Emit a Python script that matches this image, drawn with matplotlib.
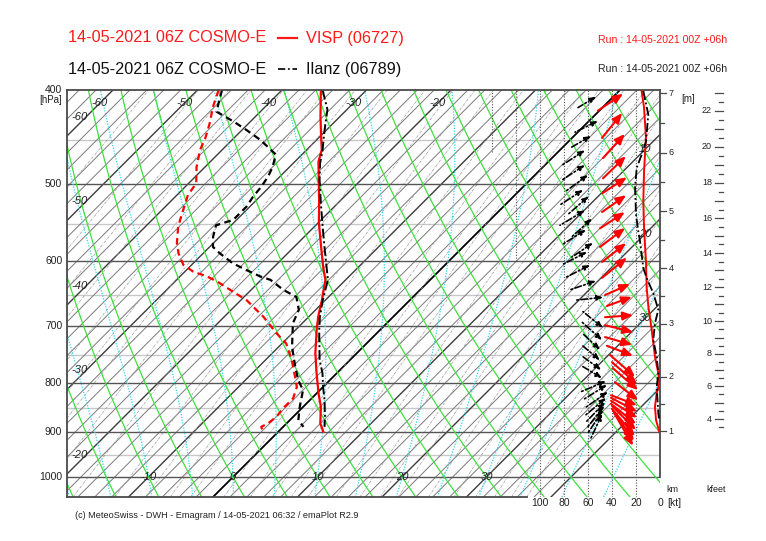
import numpy as np
import matplotlib
matplotlib.use("Agg")
import matplotlib.pyplot as plt
from matplotlib.lines import Line2D
from matplotlib.transforms import blended_transform_factory

plt.rcParams['font.family'] = ['Liberation Sans', 'DejaVu Sans']

# ------------------------------------------------------------------ data
# VISP (06727) temperature / dew point profile  [hPa, degC]
visp_p = [400, 426, 448, 461, 474, 495, 523, 548, 580, 608, 627, 658, 684, 706,
          746, 782, 820, 847, 881, 898]
visp_t = [-35.4, -32.3, -29.7, -28.2, -27.2, -25.0, -22.2, -19.9, -16.8, -14.2,
          -12.4, -10.4, -8.9, -7.5, -4.9, -2.4, 0.2, 2.1, 4.0, 5.3]
visp_td_p = [400, 416, 433, 448, 461, 480, 499, 513, 536, 553, 575, 589, 605, 615,
             622, 630, 645, 658, 676, 684, 712, 729, 758, 789, 808, 830, 847, 867,
             881, 888, 898]
visp_td = [-47.5, -46.2, -44.6, -43.4, -42.6, -41.0, -39.1, -38.7, -37.2, -36.1,
           -34.3, -32.9, -31.0, -29.0, -26.8, -24.9, -21.9, -19.3, -16.6, -15.4,
           -11.8, -9.5, -6.9, -4.5, -3.1, -2.2, -2.2, -2.0, -2.2, -2.6, -1.8]

# Ilanz (06789)
ilanz_p = [400, 419, 433, 448, 461, 476, 495, 523, 553, 580, 608, 627, 658, 684,
           706, 758, 782, 808, 833, 867, 888]
ilanz_t = [-35.2, -32.3, -30.9, -29.4, -28.1, -26.8, -24.9, -22.0, -19.0, -16.4,
           -13.8, -12.1, -10.3, -8.7, -7.2, -3.6, -1.7, 0.0, 1.7, 3.75, 4.9]
ilanz_td_p = [400, 421, 431, 440, 450, 457, 466, 480, 491, 503, 515, 527, 544, 551,
              566, 580, 589, 603, 615, 622, 627, 642, 653, 673, 695, 735, 770, 795,
              814, 847, 874, 888]
ilanz_td = [-47.1, -45.2, -42.0, -39.4, -36.7, -35.1, -33.1, -32.0, -31.4, -31.0,
            -30.8, -30.4, -30.4, -31.8, -30.8, -29.6, -28.0, -25.3, -22.3, -20.5,
            -18.9, -16.2, -13.8, -12.0, -11.1, -8.4, -5.7, -3.75, -2.0, -0.4, 1.0, 2.4]

# profile curves in the wind panel [hPa, kt]
visp_ff_p = [401, 417, 448, 485, 520, 555, 600, 639, 668, 706, 752, 782, 801, 820,
             847, 874, 898]
visp_ff = [15.3, 13.3, 11.7, 13.3, 13.9, 13.3, 11.7, 11.1, 9.7, 6.9, 4.2, 1.4, 0.6,
           2.75, 4.2, 3.3, 0.6]
ilanz_ff_p = [401, 424, 452, 466, 481, 504, 537, 559, 572, 610, 627, 647, 673, 695,
              723, 752, 782, 808, 860, 874]
ilanz_ff = [13.9, 9.75, 11.7, 15.25, 19.4, 20.8, 20.0, 18.1, 16.7, 13.9, 10.5, 5.6,
            1.4, 4.2, 5.6, 2.75, 1.4, 2.75, 1.4, 0.6]

# wind arrows: pressure [hPa], position of the tail on the kt scale,
# direction [deg] and vector length [kt]
visp_w_p = [420, 448, 470, 493, 511, 534, 555, 580, 601, 624, 650, 667, 685, 698,
            718, 733, 749, 762, 773, 799, 824, 829, 835, 841, 845, 851, 855, 859]
visp_w_kt = [51.7, 48.3, 47.5, 47.5, 48.3, 48.3, 50.0, 50.0, 48.3, 48.3, 45.8, 44.2,
             45.8, 45.8, 45.8, 44.2, 41.7, 40.0, 39.2, 37.5, 40.8, 40.8, 40.8, 40.8,
             40.0, 40.0, 39.2, 38.3]
visp_w_dir = [236, 219, 222, 226, 237, 235, 237, 233, 232, 231, 246, 250, 266, 284,
              286, 291, 311, 311, 311, 308, 291, 298, 303, 309, 315, 320, 325, 330]
visp_w_ff = [25.2, 26.7, 27.1, 26.5, 24.7, 24.5, 24.7, 26.2, 25.5, 26.7, 22.8, 22.1,
             23.4, 24.1, 23.5, 23.2, 27.7, 27.7, 27.7, 24.3, 23.2, 24.6, 25.9, 26.7,
             28.3, 29.6, 30.5, 31.7]

ilanz_w_p = [417, 442, 459, 478, 495, 509, 525, 537, 551, 566, 577, 594, 605, 624,
             642, 658, 676, 693, 711, 732, 751, 769, 818, 833, 849, 863, 878, 890,
             901, 916]
ilanz_w_kt = [68.3, 70.8, 75.0, 81.7, 81.7, 79.2, 83.3, 76.7, 83.3, 73.3, 81.7, 73.3,
              81.7, 79.2, 75.0, 70.8, 64.2, 65.0, 65.0, 65.0, 65.0, 65.0, 66.7, 64.2,
              62.5, 61.7, 61.7, 60.8, 60.0, 58.3]
ilanz_w_dir = [239, 244, 240, 237, 237, 234, 237, 229, 239, 228, 238, 236, 243, 243,
               251, 264, 309, 312, 313, 310, 306, 301, 247, 238, 235, 230, 224, 218,
               213, 205]
ilanz_w_ff = [17.6, 21.2, 20.2, 22.9, 22.9, 23.8, 22.9, 23.0, 24.3, 22.4, 23.6, 21.0,
              23.5, 23.5, 22.9, 23.5, 21.3, 22.4, 20.6, 19.5, 19.7, 19.4, 23.5, 23.6,
              23.3, 21.9, 23.0, 23.2, 22.9, 23.9]

# height scales (pressure of each km level)
km_levels = [1, 2, 3, 4, 5, 6, 7]
km_press = [897, 789, 696, 610, 533, 464, 403]

p_major = [500, 600, 700, 800, 900, 1000]
p_minor = [450, 550, 650, 750, 850, 950]
p_labels = [400, 500, 600, 700, 800, 900, 1000]
kt_ticks = [100, 80, 60, 40, 20, 0]

title_red = "14-05-2021 06Z COSMO-E"
station_red = "VISP (06727)"
title_blk = "14-05-2021 06Z COSMO-E"
station_blk = "Ilanz (06789)"
run_txt = "Run : 14-05-2021 00Z +06h"
footer = "(c) MeteoSwiss - DWH - Emagram / 14-05-2021 06:32 / emaPlot R2.9"

# ------------------------------------------------------------------ figure
W, H = 766, 541
fig = plt.figure(figsize=(W / 100, H / 100), dpi=100)
L, R, T, B = 67, 660, 90, 497
rect = [L / W, 1 - B / H, (R - L) / W, (B - T) / H]
ax = fig.add_axes(rect)
P_BOT, P_TOP = 1048.5, 400.0
X_MIN, X_MAX = -19.645, 50.533
ax.set_yscale('log')
ax.set_ylim(P_BOT, P_TOP)
ax.set_xlim(X_MIN, X_MAX)
ax.set_xticks([]); ax.set_yticks([]); ax.minorticks_off()
for s in ax.spines.values():
    s.set_visible(False)
SKEW = ((B - T) / np.log(P_BOT / P_TOP)) / ((R - L) / (X_MAX - X_MIN))


def skx(t, p):
    return np.asarray(t, float) + SKEW * np.log(1000.0 / np.asarray(p, float))


pp = np.geomspace(P_BOT, P_TOP, 120)
GREY = '#7a7a7a'

# horizontal pressure lines
for p in p_minor:
    ax.plot([X_MIN, X_MAX], [p, p], color='#c8c8c8', lw=1.0, zorder=1)
for p in p_major:
    ax.plot([X_MIN, X_MAX], [p, p], color='#555555', lw=1.0, zorder=1.2)

# isotherms
for t in np.arange(-110, 40.01, 2):
    if t == 0:
        c, lw = '#000000', 1.3
    elif t % 10 == 0:
        c, lw = '#3c3c3c', 1.0
    else:
        c, lw = GREY, 0.7
    ax.plot(skx([t, t], [P_BOT, P_TOP]), [P_BOT, P_TOP], color=c, lw=lw, zorder=1.1)

# mixing ratio lines
for w in [0.05, 0.1, 0.15, 0.2, 0.3, 0.4, 0.5, 0.7, 1, 1.5, 2, 2.5, 3, 4, 5, 6, 7,
          8, 10, 12, 14, 16, 20, 24, 28, 32, 36, 40]:
    e = pp * w / (622.0 + w)
    a = np.log(e / 6.112)
    td = 243.5 * a / (17.67 - a)
    ax.plot(skx(td, pp), pp, color='#9a9a9a', lw=0.5, ls=(0, (4, 1.5, 1, 1.5)), zorder=1.1)

# dry adiabats
for th in np.arange(-80, 181, 5):
    tt = (th + 273.15) * (pp / 1000.0) ** 0.2857 - 273.15
    ax.plot(skx(tt, pp), pp, color='#3ee03e', lw=0.9, zorder=1.3)


# moist adiabats
def moist(t0):
    Rd, cp, Lv, eps = 287.04, 1005.7, 2.501e6, 0.622

    def f(Tk, p):
        tc = Tk - 273.15
        es = 6.112 * np.exp(17.67 * tc / (tc + 243.5))
        rs = eps * es / (p - es)
        return (Rd * Tk + Lv * rs) / (p * (cp + Lv * Lv * rs * eps / (Rd * Tk * Tk)))

    out = []
    for pend in (P_TOP, P_BOT):
        ps = np.linspace(1000.0, pend, 200)
        Tk = t0 + 273.15
        res = [Tk]
        for i in range(len(ps) - 1):
            h = ps[i + 1] - ps[i]
            k1 = f(Tk, ps[i]); k2 = f(Tk + h * k1 / 2, ps[i] + h / 2)
            k3 = f(Tk + h * k2 / 2, ps[i] + h / 2); k4 = f(Tk + h * k3, ps[i + 1])
            Tk = Tk + h * (k1 + 2 * k2 + 2 * k3 + k4) / 6
            res.append(Tk)
        out.append((ps, np.array(res) - 273.15))
    p_all = np.concatenate([out[1][0][::-1], out[0][0][1:]])
    t_all = np.concatenate([out[1][1][::-1], out[0][1][1:]])
    return p_all, t_all


for tw in np.arange(-25, 46, 5):
    mp, mt = moist(tw)
    ax.plot(skx(mt, mp), mp, color='#33d6f0', lw=0.9, ls=(0, (1, 1.2)), zorder=1.25)

# frame
fc = '#4a4a4a'
ax.plot([X_MIN, X_MIN], [P_BOT, P_TOP], color=fc, lw=1.3, clip_on=False, zorder=5)
ax.plot([X_MIN, X_MAX], [P_TOP, P_TOP], color=fc, lw=1.3, clip_on=False, zorder=5)
ax.plot([X_MAX, X_MAX], [1000, P_TOP], color=fc, lw=1.3, clip_on=False, zorder=5)
x_bot_end = X_MIN + (527 - L) / (R - L) * (X_MAX - X_MIN)
ax.plot([X_MIN, x_bot_end], [P_BOT, P_BOT], color=fc, lw=1.3, clip_on=False, zorder=5)

# isotherm labels
lab_kw = dict(fontsize=8, style='italic', color='#222222', ha='center', va='center', zorder=6)
x_left = X_MIN + 13 / 8.45
for t in [-60, -50, -40, -30, -20]:
    p = 1000.0 / np.exp((x_left - t) / SKEW)
    ax.text(x_left, p * 0.985, str(t), **lab_kw)
p_top_lab = 412.5
for t in [-60, -50, -40, -30, -20]:
    ax.text(skx(t, p_top_lab), p_top_lab, str(t), **lab_kw)
for t in [-10, 0, 10, 20, 30]:
    ax.text(t, 1000, str(t), **lab_kw)
x_right = X_MIN + (645 - L) / 8.45
for t in [10, 20, 30]:
    p = 1000.0 / np.exp((x_right - t) / SKEW)
    ax.text(x_right, p, str(t), **lab_kw)

# profiles
ax.plot(skx(visp_t, visp_p), visp_p, color='#ff0000', lw=1.6, zorder=4)
ax.plot(skx(visp_td, visp_td_p), visp_td_p, color='#ff0000', lw=1.6, ls=(0, (3, 2)), zorder=4)
ax.plot(skx(ilanz_t, ilanz_p), ilanz_p, color='#000000', lw=1.4, ls=(0, (5, 1.5, 1, 1.5)), zorder=4)
ax.plot(skx(ilanz_td, ilanz_td_p), ilanz_td_p, color='#000000', lw=1.6, ls=(0, (3, 2)), zorder=4)

# pressure labels
tr = blended_transform_factory(ax.transAxes, ax.transData)
for p in p_labels:
    ax.text(-0.008, p, str(p), transform=tr, ha='right', va='center', fontsize=7.5, color='#222222')
ax.text(-0.008, 400 * np.exp(10 / 422.3), '[hPa]', transform=tr, ha='right', va='center',
        fontsize=7, color='#222222')

# ------------------------------------------------------------------ wind panel
axw = fig.add_axes(rect, sharey=ax)
axw.patch.set_visible(False)
KT_LEFT = (R - L) / 1.2
axw.set_xlim(KT_LEFT, 0)
axw.set_ylim(P_BOT, P_TOP)
axw.set_xticks([]); axw.set_yticks([]); axw.minorticks_off()
for s in axw.spines.values():
    s.set_visible(False)

for v in [20, 40, 60, 80, 100]:
    axw.plot([v, v], [P_BOT, P_TOP], color='#555555', lw=0.8, ls=(0, (1, 1.5)), zorder=2)
axw.plot([120, 120], [600, P_TOP], color='#555555', lw=0.8, ls=(0, (1, 1.5)), zorder=2)
axw.plot([140, 140], [463, P_TOP], color='#555555', lw=0.8, ls=(0, (1, 1.5)), zorder=2)

p_lab = 1000 * np.exp(26 / 422.3)
for v in kt_ticks:
    axw.text(v, p_lab, str(v), ha='center', va='center', fontsize=7.5, color='#222222')
axw.text(-6, p_lab, '[kt]', ha='left', va='center', fontsize=7.5, color='#222222')

axw.plot(visp_ff, visp_ff_p, color='#ff0000', lw=1.4, zorder=4)
axw.plot(ilanz_ff, ilanz_ff_p, color='#000000', lw=1.3, ls=(0, (5, 1.5, 1, 1.5)), zorder=4)

PT_PER_KT = 1.2 * 0.72


def draw_arrows(ps, kts, dirs, ffs, color, ls, lw, head):
    for p, k, d, ff in zip(ps, kts, dirs, ffs):
        to = np.deg2rad(d + 180)
        ln = ff * PT_PER_KT
        dx, dy = np.sin(to) * ln, np.cos(to) * ln
        axw.annotate('', xy=(k, p), xytext=(dx, dy), textcoords='offset points',
                     arrowprops=dict(arrowstyle=head, color=color, lw=lw, linestyle=ls,
                                     shrinkA=0, shrinkB=0), zorder=5)


draw_arrows(visp_w_p, visp_w_kt, visp_w_dir, visp_w_ff, '#ff0000', '-', 1.5,
            '<|-,head_length=0.6,head_width=0.25')
draw_arrows(ilanz_w_p, ilanz_w_kt, ilanz_w_dir, ilanz_w_ff, '#000000',
            (0, (4, 1.5, 1, 1.5)), 1.2, '<|-,head_length=0.35,head_width=0.14')

# km axis on the right edge
for km, p in zip(km_levels, km_press):
    axw.plot([0, -5], [p, p], color=fc, lw=0.9, clip_on=False)
    axw.text(-7, p, str(km), ha='left', va='center', fontsize=6.5, color='#222222')
ln_km = np.log(km_press)
for km in np.arange(1.5, 7.0, 1.0):
    p = np.exp(np.interp(km, km_levels, ln_km))
    axw.plot([0, -3.3], [p, p], color=fc, lw=0.9, clip_on=False)
axw.text(-18, 400 * np.exp(9 / 422.3), '[m]', ha='left', va='center', fontsize=7, color='#222222')
axw.text(-5, 1000 * np.exp(13 / 422.3), 'km', ha='left', va='center', fontsize=6.5, color='#222222')

# kfeet scale
KF_X0 = -(715 - R) / 1.2
KF_X1 = -(723 - R) / 1.2
KF_XS = -(719 - R) / 1.2
for kf in np.arange(3.5, 23.01, 0.5):
    km = kf * 0.3048
    lp = np.interp(km, km_levels, ln_km)
    if km < km_levels[0]:
        lp = ln_km[0] + (km - 1) * (ln_km[1] - ln_km[0])
    p = np.exp(lp)
    x0 = KF_X0 if kf == int(kf) else KF_XS
    axw.plot([x0, KF_X1], [p, p], color=fc, lw=0.9, clip_on=False)
    if kf == int(kf) and int(kf) % 2 == 0:
        axw.text(-(712 - R) / 1.2, p, str(int(kf)), ha='right', va='center', fontsize=6.5,
                 color='#222222')
axw.text(-(706 - R) / 1.2, 1000 * np.exp(13 / 422.3), 'kfeet', ha='left', va='center',
         fontsize=6.5, color='#222222')

# ------------------------------------------------------------------ header / footer
fig.text(68 / W, 1 - 38 / H, title_red, color='#ff1a1a', fontsize=11.7, va='center')
fig.add_artist(Line2D([278 / W, 297 / W], [1 - 38 / H, 1 - 38 / H], color='#ff1a1a', lw=1.6,
                      transform=fig.transFigure))
fig.text(306 / W, 1 - 38 / H, station_red, color='#ff1a1a', fontsize=11.7, va='center')
fig.text(68 / W, 1 - 69 / H, title_blk, color='#111111', fontsize=11.7, va='center')
fig.add_artist(Line2D([278 / W, 297 / W], [1 - 69 / H, 1 - 69 / H], color='#111111', lw=1.3,
                      ls=(0, (4, 1.5, 1, 1.5)), transform=fig.transFigure))
fig.text(306 / W, 1 - 69 / H, station_blk, color='#111111', fontsize=11.7, va='center')
fig.text(727 / W, 1 - 40 / H, run_txt, color='#ff1a1a', fontsize=7.6, va='center', ha='right')
fig.text(727 / W, 1 - 69 / H, run_txt, color='#222222', fontsize=7.6, va='center', ha='right')
fig.text(75 / W, 1 - 515 / H, footer, color='#222222', fontsize=6.6, va='center')

fig.savefig('out.png', dpi=100)
